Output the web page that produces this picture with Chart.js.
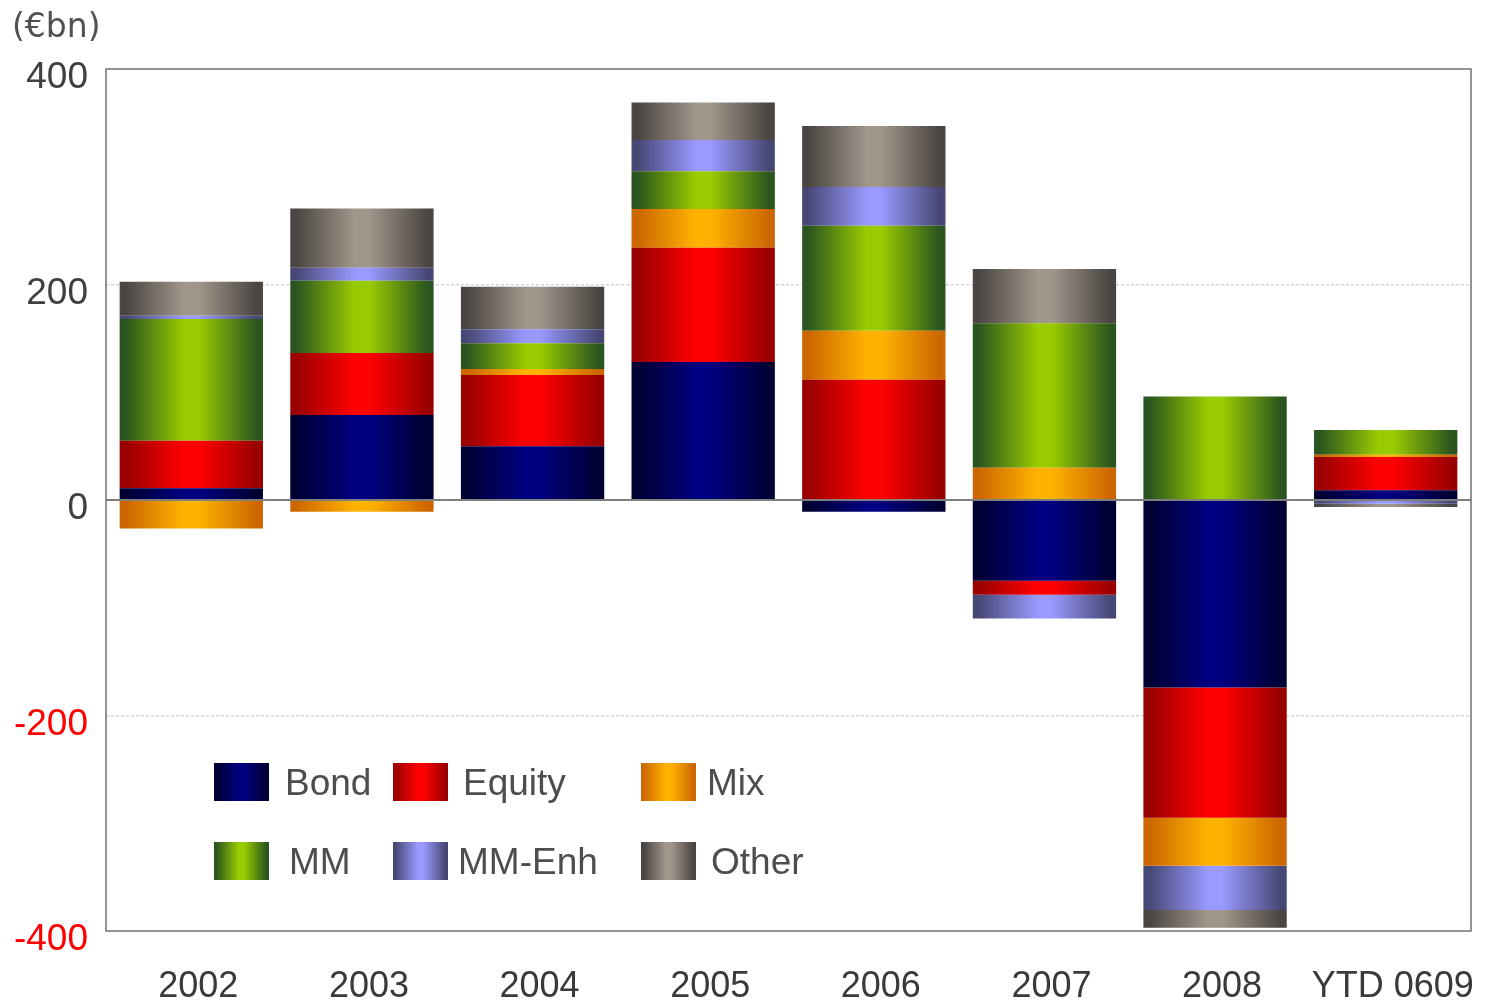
<!DOCTYPE html>
<html>
<head>
<meta charset="utf-8">
<script src="https://cdn.jsdelivr.net/npm/chart.js@4"></script>
<style>
  html, body { margin: 0; padding: 0; background: #fff; }
  #wrap { width: 1494px; height: 1001px; position: relative; }
</style>
</head>
<body>
<div id="wrap"><canvas id="flows"></canvas></div>
<script>
// net flows by fund type, EUR bn
var years  = ['2002', '2003', '2004', '2005', '2006', '2007', '2008', 'YTD 0609'];
var bond   = [11, 79, 50, 128, -11, -75, -174, 9];
var equity = [44, 57.5, 66, 106, 111.5, -13, -121, 31];
var mix    = [-26.5, -11, 5.5, 36, 45.5, 30, -44.5, 2];
var mm     = [113, 67, 24, 35, 97.5, 134, 96, 23];
var mmEnh  = [3, 12, 13, 29, 36, -22, -41, -3.5];
var other  = [31.5, 55, 39.5, 35, 56.5, 50.5, -16.5, -3];
var yTicks = [-400, -200, 0, 200, 400];

var seriesNames = ['Bond', 'Equity', 'Mix', 'MM', 'MM-Enh', 'Other'];
var seriesData  = [bond, equity, mix, mm, mmEnh, other];
// [edge colour, centre colour] of each horizontal gradient
var seriesCols = [
  ['#000033', '#000080'],
  ['#990000', '#ff0000'],
  ['#cc6600', '#ffb300'],
  ['#2a551f', '#99cc00'],
  ['#474775', '#9999ff'],
  ['#4a4542', '#a0968b']
];
var catPct = 0.84;

function makeGrad(g, x0, x1, edge, mid) {
  var gr = g.createLinearGradient(x0, 0, x1, 0);
  gr.addColorStop(0, edge);
  gr.addColorStop(0.04, edge);
  gr.addColorStop(0.45, mid);
  gr.addColorStop(0.55, mid);
  gr.addColorStop(0.96, edge);
  gr.addColorStop(1, edge);
  return gr;
}

function barFill(k) {
  return function(ctx) {
    var chart = ctx.chart;
    var xs = chart.scales.x;
    if (!xs || !chart.chartArea || ctx.dataIndex === undefined) return seriesCols[k][1];
    var cx = xs.getPixelForValue(ctx.dataIndex);
    var w = xs.width / years.length * catPct;
    return makeGrad(chart.ctx, cx - w / 2, cx + w / 2, seriesCols[k][0], seriesCols[k][1]);
  };
}

var datasets = [];
for (var k = 0; k < seriesNames.length; k++) {
  datasets.push({
    label: seriesNames[k],
    data: seriesData[k],
    backgroundColor: barFill(k),
    borderWidth: 0,
    categoryPercentage: catPct,
    barPercentage: 1
  });
}

var txtFont = "'Liberation Sans', Arial, sans-serif";

// zero line, frame, unit label and the in-plot legend
var decor = {
  id: 'decor',
  afterDatasetsDraw: function(chart) {
    var g = chart.ctx, a = chart.chartArea;
    var y0 = chart.scales.y.getPixelForValue(0);
    g.save();
    g.strokeStyle = '#7f7f7f';
    g.lineWidth = 2;
    g.beginPath();
    g.moveTo(a.left, y0);
    g.lineTo(a.right, y0);
    g.stroke();
    g.strokeStyle = '#707070';
    g.lineWidth = 1.5;
    g.strokeRect(a.left, a.top, a.right - a.left, a.bottom - a.top);

    g.fillStyle = '#505050';
    g.font = "33px 'DejaVu Sans', sans-serif";
    g.textBaseline = 'alphabetic';
    g.fillText('(\u20acbn)', 12, 37);

    // legend: 2 rows x 3 columns
    var boxX = [214, 393, 641];
    var txtX = [[285, 463, 707], [289, 458, 711]];
    var rowY = [763, 842];
    g.font = '37px ' + txtFont;
    for (var i = 0; i < seriesNames.length; i++) {
      var r = Math.floor(i / 3), c = i % 3;
      var bx = boxX[c], by = rowY[r];
      g.fillStyle = makeGrad(g, bx, bx + 55, seriesCols[i][0], seriesCols[i][1]);
      g.fillRect(bx, by, 55, 38);
      g.fillStyle = '#4d4d4d';
      g.fillText(seriesNames[i], txtX[r][c], by + 32);
    }
    g.restore();
  }
};

new Chart(document.getElementById('flows'), {
  type: 'bar',
  data: { labels: years, datasets: datasets },
  options: {
    responsive: true,
    maintainAspectRatio: false,
    animation: false,
    layout: { padding: { top: 69, right: 23, left: 0, bottom: 0 } },
    plugins: {
      legend: { display: false },
      tooltip: { enabled: false }
    },
    scales: {
      x: {
        stacked: true,
        grid: { display: false, drawTicks: false },
        border: { display: false },
        ticks: {
          color: '#3a3a3a',
          font: { family: txtFont, size: 36 },
          padding: 34,
          labelOffset: 7,
          maxRotation: 0,
          autoSkip: false
        },
        afterFit: function(s) {
          s.height = 70;
          s.paddingLeft = 0;
          s.paddingRight = 0;
        }
      },
      y: {
        stacked: true,
        min: -400,
        max: 400,
        afterBuildTicks: function(s) { s.ticks = yTicks.map(function(v) { return { value: v }; }); },
        grid: {
          drawTicks: false,
          lineWidth: 1.5,
          color: function(ctx) {
            var v = ctx.tick && ctx.tick.value;
            return (v === 200 || v === -200) ? '#d6d6d6' : 'rgba(0,0,0,0)';
          }
        },
        border: { display: false, dash: [3, 2] },
        ticks: {
          padding: 18,
          labelOffset: 9,
          font: { family: txtFont, size: 37 },
          color: function(ctx) { return ctx.tick.value < 0 ? '#ff0000' : '#404040'; }
        },
        afterFit: function(s) {
          s.width = 106;
          s.paddingTop = 0;
          s.paddingBottom = 0;
        }
      }
    }
  },
  plugins: [decor]
});
</script>
</body>
</html>
